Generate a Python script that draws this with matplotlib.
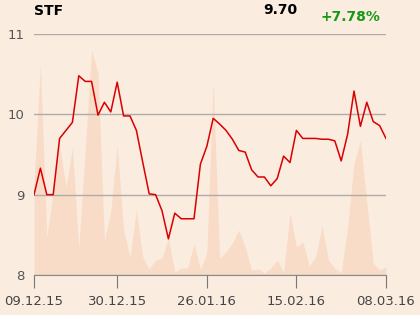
import matplotlib
matplotlib.use("Agg")
import matplotlib.pyplot as plt

# closing prices, one per trading day (09.12.15 .. 08.03.16)
prices = [9.00, 9.33, 9.00, 9.00, 9.70, 9.80, 9.90, 10.48, 10.41, 10.41,
          9.99, 10.15, 10.03, 10.40, 9.98, 9.98, 9.80, 9.40, 9.01, 9.00,
          8.80, 8.45, 8.77, 8.70, 8.70, 8.70, 9.38, 9.60, 9.95, 9.88,
          9.80, 9.69, 9.55, 9.53, 9.31, 9.22, 9.22, 9.11, 9.20, 9.48,
          9.40, 9.80, 9.70, 9.70, 9.70, 9.69, 9.69, 9.67, 9.42, 9.75,
          10.29, 9.85, 10.15, 9.91, 9.86, 9.70]

# traded volume (relative units)
volume = [90, 210, 38, 83, 130, 88, 127, 27, 125, 225,
          202, 35, 63, 130, 45, 18, 65, 18, 6, 15,
          17, 37, 3, 7, 7, 31, 6, 22, 193, 17,
          23, 32, 45, 28, 5, 6, 2, 7, 15, 3,
          62, 28, 33, 9, 18, 49, 15, 7, 2, 48,
          112, 134, 73, 12, 5, 8]

tick_pos = [0, 13, 27, 41, 55]
tick_labels = ["09.12.15", "30.12.15", "26.01.16", "15.02.16", "08.03.16"]

name = "STF"
last_price = "9.70"
change = "+7.78%"

bg = "#fbece0"
x = list(range(len(prices)))

fig = plt.figure(figsize=(4.2, 3.15), dpi=100, facecolor=bg)
ax = fig.add_axes([34 / 420, 40 / 315, 352 / 420, 241 / 315])
ax2 = ax.twinx()
ax.set_zorder(ax2.get_zorder() + 1)
ax.patch.set_visible(False)
ax2.patch.set_facecolor(bg)

ax2.fill_between(x, volume, 0, color="#f8dcc7", linewidth=0)
ax2.set_ylim(0, 241)
ax2.set_yticks([])
for s in ax2.spines.values():
    s.set_visible(False)

ax.plot(x, prices, color="#d90000", linewidth=1.1, zorder=3)
ax.set_xlim(0, len(prices) - 1)
ax.set_ylim(8, 11)
ax.set_yticks([8, 9, 10, 11])
ax.grid(axis="y", color="#b0aba6", linewidth=1.0)
ax.set_axisbelow(True)
ax.set_xticks(tick_pos)
ax.set_xticklabels(tick_labels)
ax.tick_params(axis="x", length=9.5, width=0.8, color="#777777", labelsize=9.5,
               labelcolor="#444444", pad=5)
ax.tick_params(axis="y", length=0, labelsize=9.5, labelcolor="#555555", pad=7)
for side in ["left", "right", "top"]:
    ax.spines[side].set_visible(False)
ax.spines["bottom"].set_color("#888888")
ax.spines["bottom"].set_linewidth(0.8)

fig.text(34 / 420, 1 - 11 / 315, name, fontsize=10, fontweight="bold",
         ha="left", va="center", color="black")
fig.text(297 / 420, 1 - 10 / 315, last_price, fontsize=10, fontweight="bold",
         ha="right", va="center", color="black")
fig.text(380 / 420, 1 - 17 / 315, change, fontsize=10, fontweight="bold",
         ha="right", va="center", color="#159a15")

fig.savefig("out.png", dpi=100, facecolor=bg)
